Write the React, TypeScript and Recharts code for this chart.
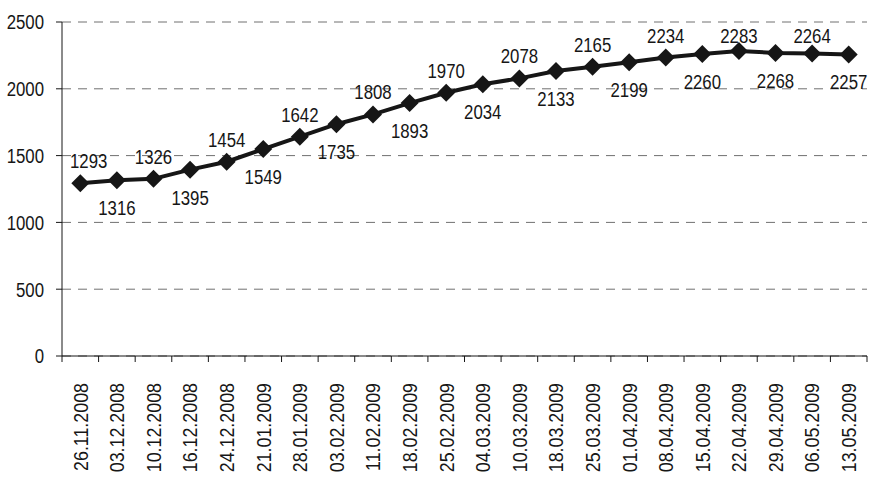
import { LineChart, Line, XAxis, YAxis, CartesianGrid, LabelList } from 'recharts';

const dates = [
  '26.11.2008', '03.12.2008', '10.12.2008', '16.12.2008', '24.12.2008', '21.01.2009',
  '28.01.2009', '03.02.2009', '11.02.2009', '18.02.2009', '25.02.2009', '04.03.2009',
  '10.03.2009', '18.03.2009', '25.03.2009', '01.04.2009', '08.04.2009', '15.04.2009',
  '22.04.2009', '29.04.2009', '06.05.2009', '13.05.2009',
];

const counts = [
  1293, 1316, 1326, 1395, 1454, 1549, 1642, 1735, 1808, 1893, 1970, 2034,
  2078, 2133, 2165, 2199, 2234, 2260, 2283, 2268, 2264, 2257,
];

const yTicks = [0, 500, 1000, 1500, 2000, 2500];

const data = dates.map((date, i) => ({ date, count: counts[i] }));

const W = 869;
const H = 477;
const margin = { top: 22, right: 2, left: 0, bottom: 0 };
const Y_W = 62;
const X_H = 121;
const PLOT_W = W - margin.left - margin.right - Y_W;
const PLOT_LEFT = margin.left + Y_W;
const BAND = PLOT_W / dates.length;
// no narrow font installed, so squeeze Liberation Sans horizontally
const FONT = '"Liberation Sans", Arial, sans-serif';
const SQUEEZE = 0.8;
const FS = 21;
const INK = '#161616';

function NarrowText({ x, y, rotate = 0, anchor = 'middle', dy = 0, squeeze = SQUEEZE, children }: any) {
  return (
    <text
      transform={`translate(${x} ${y}) rotate(${rotate}) scale(${squeeze} 1)`}
      textAnchor={anchor}
      dy={dy}
      fontSize={FS}
      fontFamily={FONT}
      fill={INK}
    >
      {children}
    </text>
  );
}

function DateTick(props: any) {
  const { x, y, payload, index } = props;
  return (
    <g>
      <line x1={x - BAND / 2} y1={y} x2={x - BAND / 2} y2={y + 6} stroke={INK} />
      {index === dates.length - 1 && (
        <line x1={x + BAND / 2} y1={y} x2={x + BAND / 2} y2={y + 6} stroke={INK} />
      )}
      <NarrowText x={x} y={y + 27} rotate={-90} anchor="end" dy="0.35em" squeeze={0.85}>
        {payload.value}
      </NarrowText>
    </g>
  );
}

function ValueTick(props: any) {
  const { x, y, payload } = props;
  return (
    <NarrowText x={x} y={y} anchor="end" dy="0.35em">
      {payload.value}
    </NarrowText>
  );
}

function Diamond(props: any) {
  const { cx, cy } = props;
  if (cx == null || cy == null) return null;
  const r = 9;
  return (
    <polygon
      key={`d-${props.index}`}
      points={`${cx},${cy - r} ${cx + r},${cy} ${cx},${cy + r} ${cx - r},${cy}`}
      fill={INK}
    />
  );
}

function ValueLabel(props: any) {
  const { x, y, value, index } = props;
  const above = index % 2 === 0;
  // keep labels a little inside the plot area, like the spreadsheet does
  const halfW = (String(value).length * FS * 0.556 * SQUEEZE) / 2;
  const lx = Math.max(x, PLOT_LEFT + 8 + halfW);
  const ly = above ? Math.max(y - 15, margin.top + 21) : y + 35;
  return (
    <NarrowText x={lx} y={ly}>
      {value}
    </NarrowText>
  );
}

export default function App() {
  return (
    <div style={{ position: 'absolute', left: 0, top: 0, background: '#fff' }}>
      <LineChart width={W} height={H} data={data} margin={margin}>
        <CartesianGrid vertical={false} stroke="#707070" strokeDasharray="9 7" />
        <XAxis
          dataKey="date"
          interval={0}
          height={X_H}
          padding={{ left: BAND / 2, right: BAND / 2 }}
          tickSize={0}
          tickMargin={0}
          tickLine={false}
          axisLine={{ stroke: INK }}
          tick={<DateTick />}
        />
        <YAxis
          width={Y_W}
          domain={[0, 2500]}
          ticks={yTicks}
          tickSize={6}
          tickMargin={12}
          axisLine={{ stroke: INK }}
          tickLine={{ stroke: INK }}
          tick={<ValueTick />}
        />
        <Line
          dataKey="count"
          stroke={INK}
          strokeWidth={4}
          dot={(p: any) => <Diamond {...p} />}
          activeDot={false}
          isAnimationActive={false}
        >
          <LabelList dataKey="count" content={<ValueLabel />} />
        </Line>
      </LineChart>
    </div>
  );
}
